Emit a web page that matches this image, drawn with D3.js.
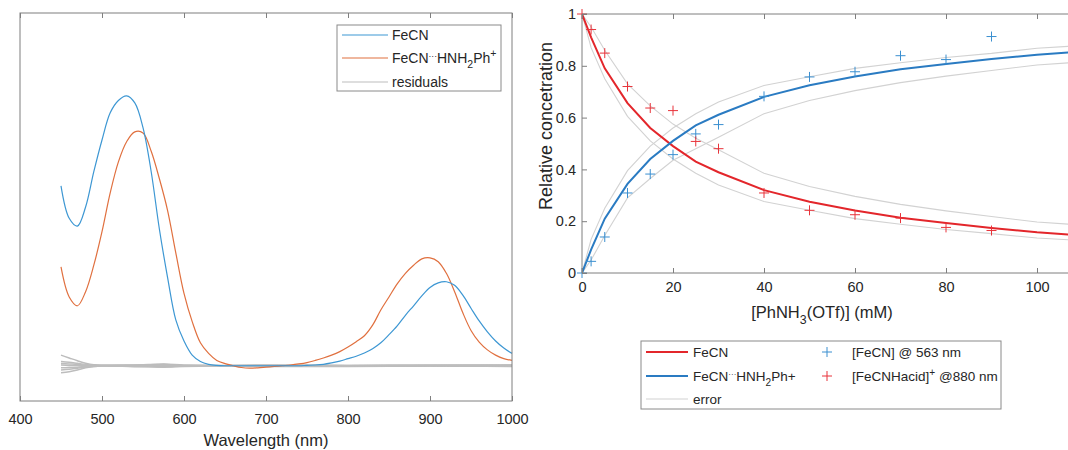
<!DOCTYPE html>
<html>
<head>
<meta charset="utf-8">
<script src="https://cdn.jsdelivr.net/npm/d3@7"></script>
<style>
body { margin: 0; background: #fff; }
text { font-family: "Liberation Sans", Arial, sans-serif; fill: #262626; }
</style>
</head>
<body>
<div id="chart"></div>
<script>
// ---- left panel: spectra (arbitrary absorbance) ----
var wavelengths = [450, 460, 470, 480, 490, 500, 510, 520, 530, 540, 550, 560, 570, 580, 590, 600, 610, 620, 630, 640,
    650, 660, 670, 680, 690, 700, 710, 720, 730, 740,
    750, 760, 770, 780, 790, 800, 810, 820, 830, 840, 850, 860, 870, 880, 890, 900, 910, 920, 930, 940, 950, 960, 970, 980, 990, 1000];
var specFeCN = [0.51, 0.418, 0.396, 0.45, 0.55, 0.64, 0.717, 0.752, 0.765, 0.745, 0.675, 0.55, 0.387, 0.25, 0.13, 0.07, 0.03, 0.012, 0.004, 0.001,
    0, 0, 0, 0, 0, 0, 0, 0, 0, 0,
    0.001, 0.002, 0.004, 0.008, 0.013, 0.02, 0.027, 0.036, 0.048, 0.065, 0.088, 0.113, 0.143, 0.17, 0.198, 0.222, 0.235, 0.238, 0.228, 0.2, 0.163, 0.127, 0.096, 0.07, 0.05, 0.035];
var specAdduct = [0.28, 0.195, 0.17, 0.21, 0.285, 0.38, 0.49, 0.578, 0.635, 0.663, 0.66, 0.608, 0.53, 0.44, 0.32, 0.205, 0.125, 0.065, 0.035, 0.015,
    0.006, 0, -0.005, -0.007, -0.006, -0.004, -0.002, 0, 0.002, 0.005,
    0.009, 0.015, 0.022, 0.03, 0.04, 0.053, 0.068, 0.085, 0.115, 0.158, 0.195, 0.232, 0.262, 0.285, 0.303, 0.306, 0.295, 0.262, 0.21, 0.15, 0.1, 0.067, 0.045, 0.03, 0.02, 0.015];

var resWavelengths = [450, 460, 470, 480, 490, 500, 550, 575, 600, 650, 700, 800, 900, 1000];
var residuals = [
    [0.03, 0.022, 0.014, 0.007, 0.003, 0.002, 0.002, 0.005, 0.002, 0.001, 0.002, 0.001, 0.002, 0.002],
    [-0.02, -0.017, -0.012, -0.006, -0.002, -0.001, -0.002, -0.004, -0.002, -0.001, -0.002, -0.002, -0.001, -0.002],
    [0.012, 0.01, 0.007, 0.004, 0.002, 0.001, 0.001, 0.003, 0.001, 0, 0.001, 0, 0.001, 0.001],
    [-0.012, -0.01, -0.007, -0.004, -0.002, -0.001, -0.001, -0.003, -0.001, 0, -0.001, -0.001, 0, -0.001],
    [0.006, 0.005, 0.004, 0.002, 0.001, 0, 0.003, 0.004, 0, 0, 0, 0.001, 0, 0.002],
    [-0.006, -0.005, -0.004, -0.002, -0.001, 0, -0.003, -0.002, 0, 0, 0, -0.001, 0, -0.001],
    [0.002, 0.001, 0.001, 0, 0, 0, 0, 0.001, 0, 0, 0.001, 0, 0.001, 0]
];
var wlTicks = [400, 500, 600, 700, 800, 900, 1000];

// ---- right panel: titration ----
var conc = [0, 2, 5, 10, 15, 20, 25, 30, 40, 50, 60, 70, 80, 90, 100, 110];
var fitFeCN = [1, 0.91, 0.79, 0.656, 0.56, 0.49, 0.43, 0.389, 0.32, 0.275, 0.241, 0.213, 0.193, 0.174, 0.157, 0.145];
var fitAdduct = [0, 0.09, 0.21, 0.344, 0.44, 0.51, 0.57, 0.611, 0.68, 0.725, 0.759, 0.787, 0.807, 0.826, 0.843, 0.855];
var errFeCNhi = [1, 0.95, 0.86, 0.73, 0.645, 0.575, 0.52, 0.476, 0.385, 0.334, 0.296, 0.265, 0.24, 0.218, 0.197, 0.185];
var errFeCNlo = [1, 0.87, 0.75, 0.605, 0.51, 0.44, 0.385, 0.34, 0.276, 0.242, 0.21, 0.188, 0.168, 0.152, 0.135, 0.125];
var errAdductHi = [0, 0.13, 0.25, 0.395, 0.49, 0.56, 0.615, 0.66, 0.724, 0.758, 0.79, 0.812, 0.832, 0.848, 0.868, 0.878];
var errAdductLo = [0, 0.05, 0.145, 0.29, 0.365, 0.435, 0.48, 0.524, 0.615, 0.666, 0.704, 0.735, 0.76, 0.782, 0.803, 0.815];

var measConc = [0, 2, 5, 10, 15, 20, 25, 30, 40, 50, 60, 70, 80, 90];
var meas563 = [0, 0.045, 0.139, 0.309, 0.382, 0.457, 0.537, 0.573, 0.682, 0.757, 0.777, 0.839, 0.824, 0.913];
var meas880 = [1, 0.94, 0.849, 0.72, 0.637, 0.627, 0.508, 0.48, 0.309, 0.242, 0.225, 0.212, 0.176, 0.164];
var concTicks = [0, 20, 40, 60, 80, 100];
var relTicks = [0, 0.2, 0.4, 0.6, 0.8, 1];

var axisColor = "#7f7f7f";
var cBlueL = "#3d97d3", cOrangeL = "#e0703f", cResid = "#bdbdbd";
var cRed = "#e3262b", cBlue = "#2a7bc2", cErr = "#d2d2d2";

var svg = d3.select("#chart").append("svg")
    .attr("width", 1068)
    .attr("height", 450);

// helper for text with sub/superscripts: parts = [[text, "n"|"sub"|"sup"|"dots"], ...]
function richText(g, x, y, parts, size, anchor) {
    var t = g.append("text").attr("x", x).attr("y", y)
        .style("font-size", size + "px")
        .attr("text-anchor", anchor || "start");
    var shift = 0;
    parts.forEach(function (p) {
        var dy = 0, fs = size;
        if (p[1] == "sub") { dy = size * 0.35; fs = size * 0.75; }
        if (p[1] == "sup") { dy = -size * 0.4; fs = size * 0.75; }
        if (p[1] == "dots") { dy = -size * 0.3; fs = size * 0.6; }
        t.append("tspan").attr("dy", dy - shift).style("font-size", fs + "px").text(p[0]);
        shift = dy;
    });
    return t;
}

// ================= left panel =================
var L = { left: 20, right: 512, top: 13, bottom: 401 };
var xW = d3.scaleLinear().domain([400, 1000]).range([L.left, L.right]);
var yA = d3.scaleLinear().domain([-0.1, 1.0]).range([L.bottom, L.top]);

var left = svg.append("g");

var resLine = d3.line()
    .x(function (d, i) { return xW(resWavelengths[i]); })
    .y(function (d) { return yA(d); })
    .curve(d3.curveMonotoneX);
residuals.forEach(function (r) {
    left.append("path").attr("d", resLine(r))
        .attr("fill", "none").attr("stroke", cResid).attr("stroke-width", 1.5);
});

var specLine = d3.line()
    .x(function (d, i) { return xW(wavelengths[i]); })
    .y(function (d) { return yA(d); })
    .curve(d3.curveCatmullRom.alpha(0.5));

left.append("path").attr("d", specLine(specAdduct))
    .attr("fill", "none").attr("stroke", cOrangeL).attr("stroke-width", 1.2);
left.append("path").attr("d", specLine(specFeCN))
    .attr("fill", "none").attr("stroke", cBlueL).attr("stroke-width", 1.2);

// box
left.append("rect")
    .attr("x", L.left).attr("y", L.top)
    .attr("width", L.right - L.left).attr("height", L.bottom - L.top)
    .attr("fill", "none").attr("stroke", axisColor);

var axL = left.append("g")
    .attr("transform", "translate(0," + L.bottom + ")")
    .call(d3.axisBottom(xW).tickValues(wlTicks).tickSize(-5).tickSizeOuter(0).tickPadding(13).tickFormat(d3.format("d")));
var axLt = left.append("g")
    .attr("transform", "translate(0," + L.top + ")")
    .call(d3.axisTop(xW).tickValues(wlTicks).tickSize(-5).tickSizeOuter(0).tickFormat(""));
[axL, axLt].forEach(function (a) {
    a.select(".domain").remove();
    a.selectAll("line").attr("stroke", axisColor);
    a.selectAll("text").style("font-size", "14.5px").style("font-family", "Liberation Sans, Arial, sans-serif").attr("fill", "#262626");
});

left.append("text").attr("x", (L.left + L.right) / 2).attr("y", 446)
    .attr("text-anchor", "middle").style("font-size", "16.5px")
    .text("Wavelength (nm)");

// left legend
var lg = left.append("g");
lg.append("rect").attr("x", 337).attr("y", 25).attr("width", 164).attr("height", 66)
    .attr("fill", "#fff").attr("stroke", "#8a8a8a");
var lgItems = [
    { color: cBlueL, parts: [["FeCN", "n"]] },
    { color: cOrangeL, parts: [["FeCN", "n"], ["···", "dots"], ["HNH", "n"], ["2", "sub"], ["Ph", "n"], ["+", "sup"]] },
    { color: cResid, parts: [["residuals", "n"]] }
];
var lgY = [35, 58, 82];
lgItems.forEach(function (it, i) {
    lg.append("line").attr("x1", 342).attr("x2", 388).attr("y1", lgY[i]).attr("y2", lgY[i])
        .attr("stroke", it.color).attr("stroke-width", 1.2);
    richText(lg, 392, lgY[i] + 5, it.parts, 14);
});

// ================= right panel =================
var R = { left: 582, top: 14, bottom: 273 };
var xC = d3.scaleLinear().domain([0, 110]).range([R.left, R.left + 110 * 4.55]);
var yR = d3.scaleLinear().domain([0, 1]).range([R.bottom, R.top]);

var right = svg.append("g");
right.append("clipPath").attr("id", "clipR").append("rect")
    .attr("x", R.left).attr("y", R.top).attr("width", 600).attr("height", R.bottom - R.top);

var plotR = right.append("g").attr("clip-path", "url(#clipR)");

var concLine = d3.line()
    .x(function (d, i) { return xC(conc[i]); })
    .y(function (d) { return yR(d); });

[errFeCNhi, errFeCNlo, errAdductHi, errAdductLo].forEach(function (e) {
    plotR.append("path").attr("d", concLine(e))
        .attr("fill", "none").attr("stroke", cErr).attr("stroke-width", 1.1);
});
plotR.append("path").attr("d", concLine(fitFeCN))
    .attr("fill", "none").attr("stroke", cRed).attr("stroke-width", 2);
plotR.append("path").attr("d", concLine(fitAdduct))
    .attr("fill", "none").attr("stroke", cBlue).attr("stroke-width", 2);

var plus = "M-5,0H5M0,-5V5";
right.selectAll(".p563").data(meas563).enter().append("path")
    .attr("class", "p563")
    .attr("d", plus)
    .attr("transform", function (d, i) { return "translate(" + xC(measConc[i]) + "," + yR(d) + ")"; })
    .attr("stroke", "#3a8fd0").attr("stroke-width", 1).attr("fill", "none");
right.selectAll(".p880").data(meas880).enter().append("path")
    .attr("class", "p880")
    .attr("d", plus)
    .attr("transform", function (d, i) { return "translate(" + xC(measConc[i]) + "," + yR(d) + ")"; })
    .attr("stroke", "#e8333a").attr("stroke-width", 1).attr("fill", "none");

// axes
right.append("line").attr("x1", R.left).attr("x2", 1068).attr("y1", R.top).attr("y2", R.top).attr("stroke", axisColor);
right.append("line").attr("x1", R.left).attr("x2", 1068).attr("y1", R.bottom).attr("y2", R.bottom).attr("stroke", axisColor);
right.append("line").attr("x1", R.left).attr("x2", R.left).attr("y1", R.top).attr("y2", R.bottom).attr("stroke", axisColor);

var axB = right.append("g").attr("transform", "translate(0," + R.bottom + ")")
    .call(d3.axisBottom(xC).tickValues(concTicks).tickSize(-5).tickSizeOuter(0).tickPadding(9));
var axT = right.append("g").attr("transform", "translate(0," + R.top + ")")
    .call(d3.axisTop(xC).tickValues(concTicks).tickSize(-5).tickSizeOuter(0).tickFormat(""));
var axY = right.append("g").attr("transform", "translate(" + R.left + ",0)")
    .call(d3.axisLeft(yR).tickValues(relTicks).tickSize(-5).tickSizeOuter(0).tickPadding(6).tickFormat(d3.format("~g")));
[axB, axT, axY].forEach(function (a) {
    a.select(".domain").remove();
    a.selectAll("line").attr("stroke", axisColor);
    a.selectAll("text").style("font-size", "14.5px").style("font-family", "Liberation Sans, Arial, sans-serif").attr("fill", "#262626");
});

richText(right, 822, 318, [["[PhNH", "n"], ["3", "sub"], ["(OTf)] (mM)", "n"]], 16.5, "middle");
right.append("text")
    .attr("transform", "translate(552,126) rotate(-90)")
    .attr("text-anchor", "middle").style("font-size", "18px")
    .text("Relative concetration");

// right legend
var rg = right.append("g");
rg.append("rect").attr("x", 641).attr("y", 341).attr("width", 360).attr("height", 68)
    .attr("fill", "#fff").attr("stroke", "#8a8a8a");
var rgY = [352, 376, 399];
var rgLines = [
    { color: cRed, parts: [["FeCN", "n"]] },
    { color: cBlue, parts: [["FeCN", "n"], ["···", "dots"], ["HNH", "n"], ["2", "sub"], ["Ph+", "n"]] },
    { color: cErr, parts: [["error", "n"]] }
];
rgLines.forEach(function (it, i) {
    rg.append("line").attr("x1", 646).attr("x2", 688).attr("y1", rgY[i]).attr("y2", rgY[i])
        .attr("stroke", it.color).attr("stroke-width", i < 2 ? 2 : 1.1);
    richText(rg, 693, rgY[i] + 5, it.parts, 13.5);
});
var rgMarks = [
    { color: "#3a8fd0", parts: [["[FeCN] @ 563 nm", "n"]] },
    { color: "#e8333a", parts: [["[FeCNHacid]", "n"], ["+", "sup"], [" @880 nm", "n"]] }
];
rgMarks.forEach(function (it, i) {
    rg.append("path").attr("d", plus)
        .attr("transform", "translate(827," + rgY[i] + ")")
        .attr("stroke", it.color).attr("fill", "none");
    richText(rg, 852, rgY[i] + 5, it.parts, 13.5);
});
</script>
</body>
</html>
